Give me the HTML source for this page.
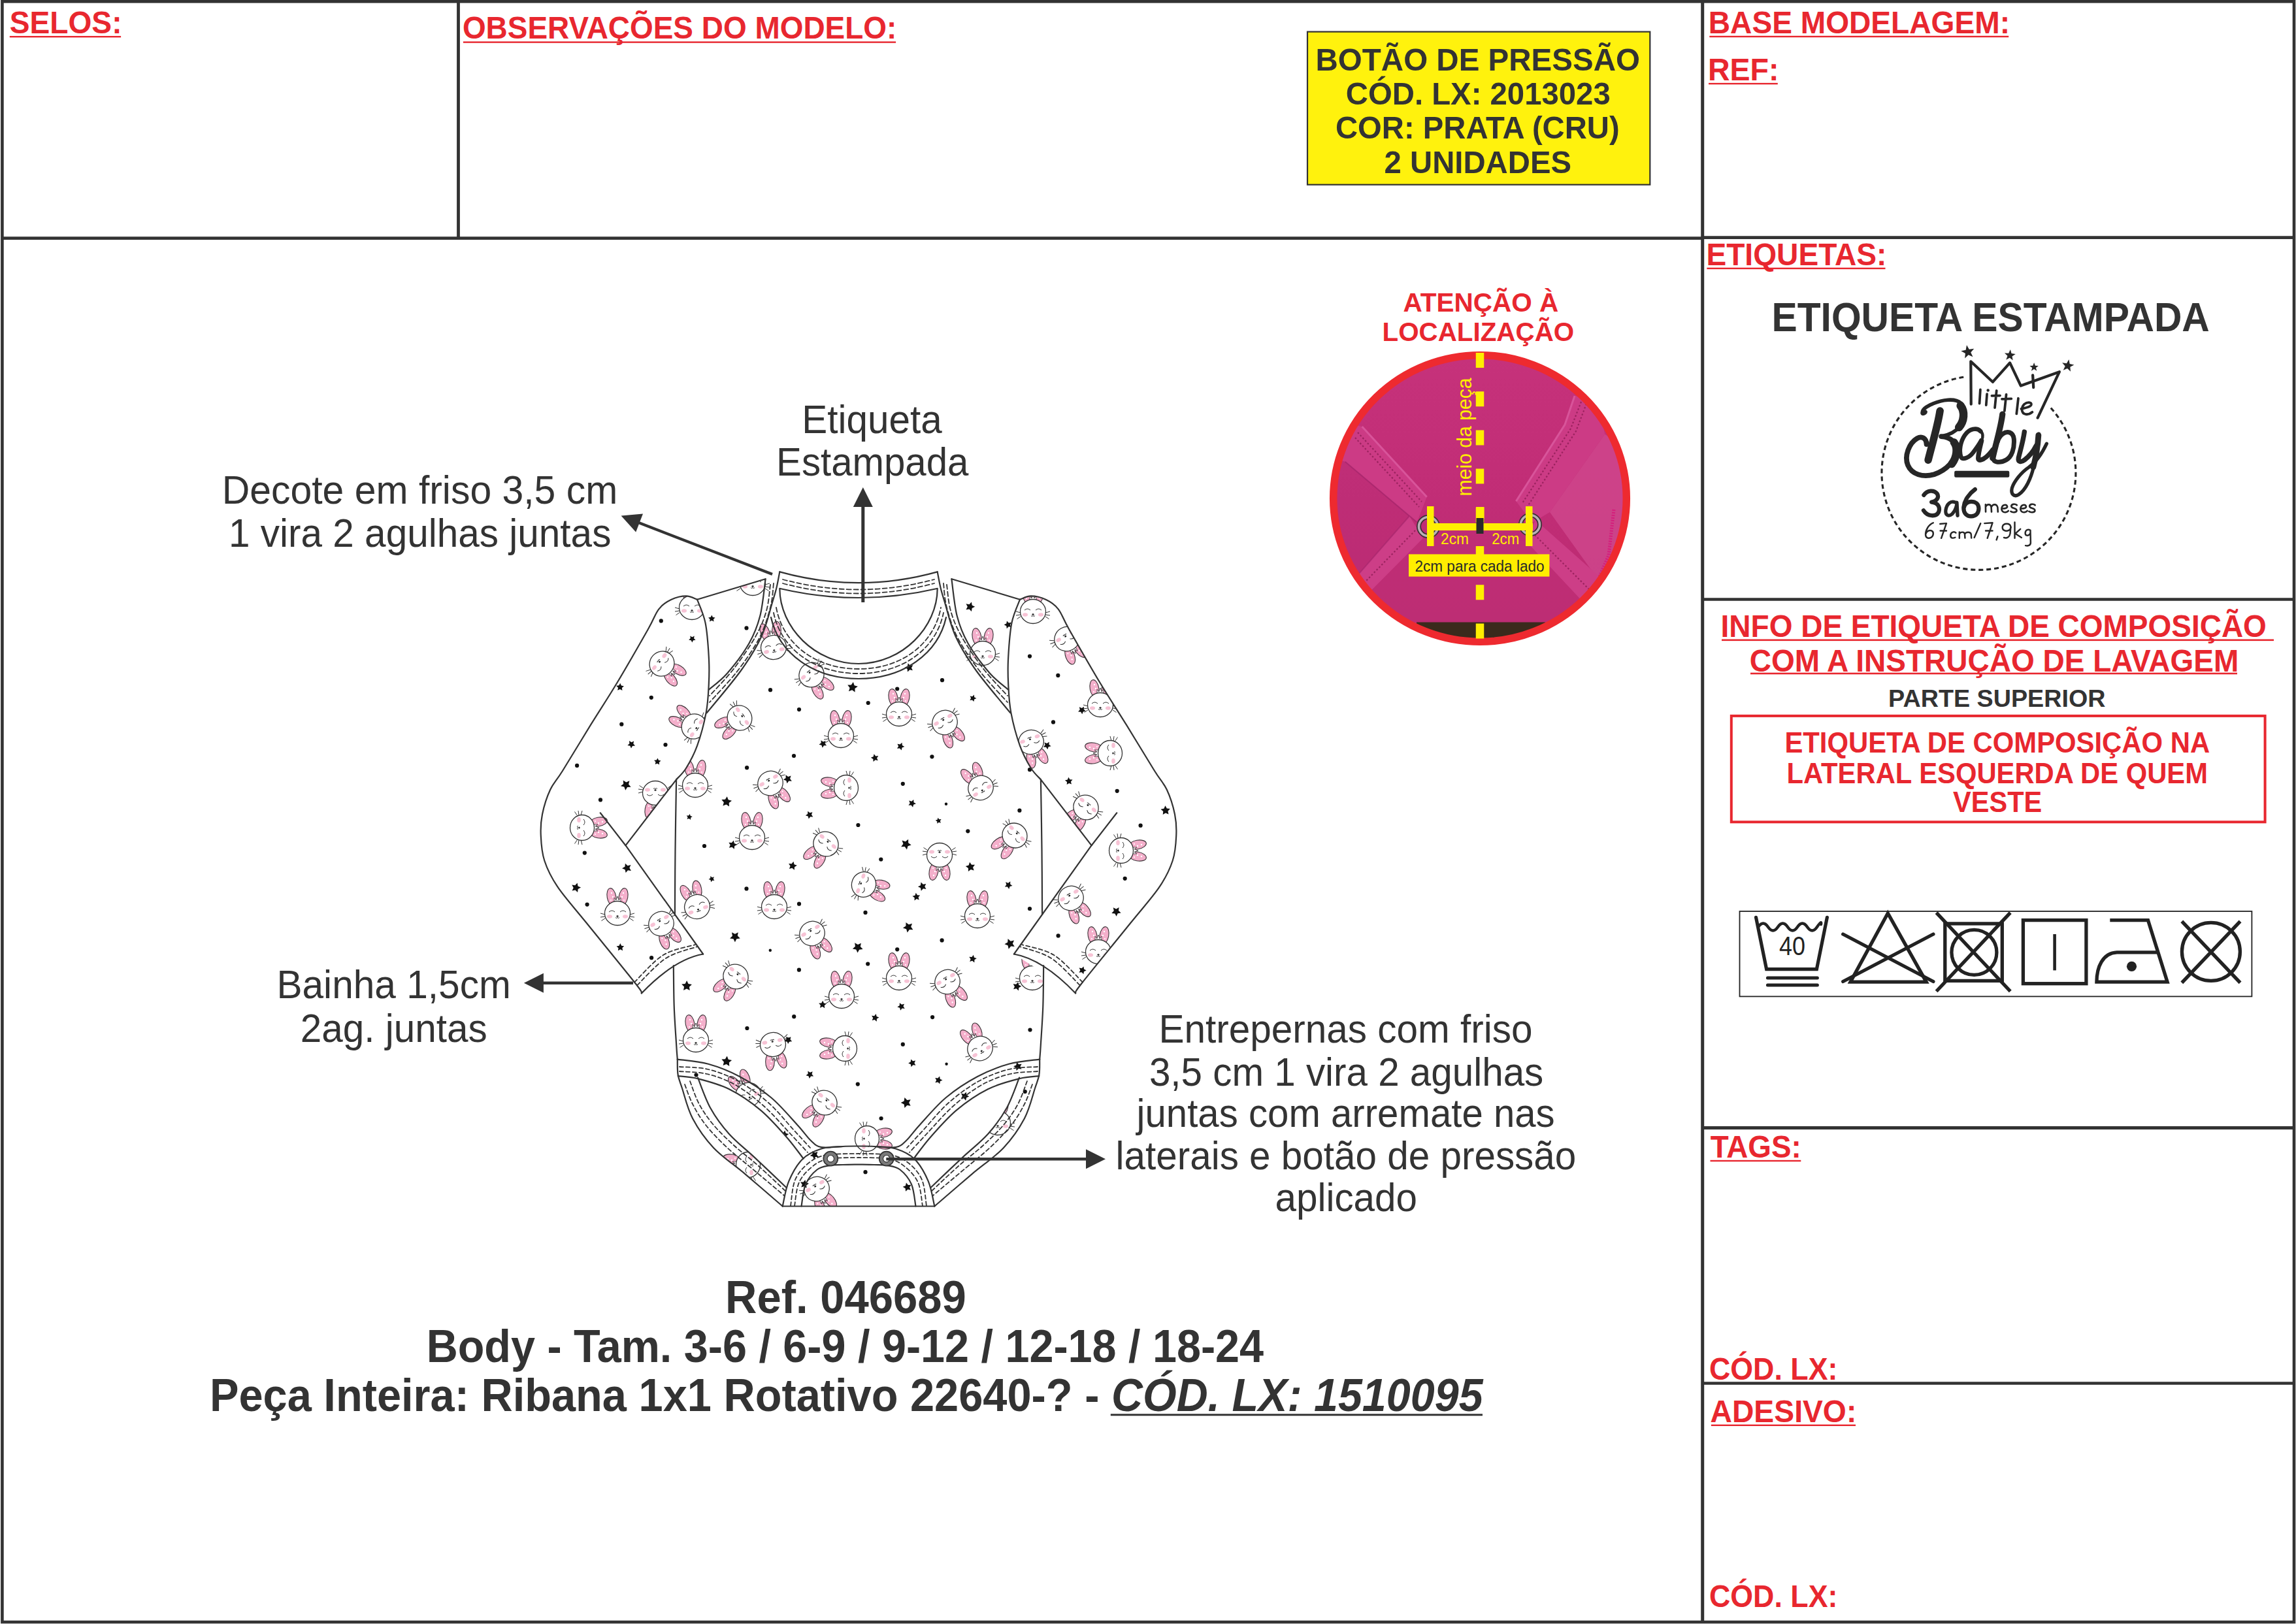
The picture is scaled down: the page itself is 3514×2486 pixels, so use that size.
<!DOCTYPE html>
<html><head><meta charset="utf-8"><title>Ficha Tecnica</title>
<style>html,body{margin:0;padding:0;background:#fff;}svg{display:block;}</style>
</head><body>
<svg width="3514" height="2486" viewBox="0 0 3514 2486"><g stroke="#333333" fill="none">
<rect x="3.4" y="2.3" width="3507.6" height="2480.7" stroke-width="4.6"/>
<line x1="701.5" y1="0" x2="701.5" y2="365" stroke-width="4.8"/>
<line x1="3" y1="364.6" x2="2606" y2="364.6" stroke-width="4.7"/>
<line x1="2605.7" y1="0" x2="2605.7" y2="2485" stroke-width="5"/>
<line x1="2605" y1="363.6" x2="3511" y2="363.6" stroke-width="4.9"/>
<line x1="2605" y1="917.5" x2="3511" y2="917.5" stroke-width="4.7"/>
<line x1="2605" y1="1726.5" x2="3511" y2="1726.5" stroke-width="4.8"/>
<line x1="2605" y1="2117.5" x2="3511" y2="2117.5" stroke-width="4.7"/>
</g>
<text x="14.8" y="51.0" font-family="Liberation Sans" font-size="48.5" font-weight="bold" fill="#e8272f" text-anchor="start" textLength="171.7" lengthAdjust="spacingAndGlyphs" >SELOS:</text>
<rect x="14.8" y="55.0" width="170.3" height="2.4" fill="#e8272f"/>
<text x="707.9" y="59.4" font-family="Liberation Sans" font-size="48.5" font-weight="bold" fill="#e8272f" text-anchor="start" textLength="664.4" lengthAdjust="spacingAndGlyphs" >OBSERVAÇÕES DO MODELO:</text>
<rect x="708.9" y="63.4" width="662.2" height="2.4" fill="#e8272f"/>
<text x="2614.8" y="50.8" font-family="Liberation Sans" font-size="48.5" font-weight="bold" fill="#e8272f" text-anchor="start" textLength="461.2" lengthAdjust="spacingAndGlyphs" >BASE MODELAGEM:</text>
<rect x="2616.3" y="54.8" width="457.9" height="2.4" fill="#e8272f"/>
<text x="2614.0" y="122.9" font-family="Liberation Sans" font-size="48.5" font-weight="bold" fill="#e8272f" text-anchor="start" textLength="108.5" lengthAdjust="spacingAndGlyphs" >REF:</text>
<rect x="2615.0" y="126.9" width="105.8" height="2.4" fill="#e8272f"/>
<rect x="2001" y="48.6" width="524.3" height="234.1" fill="#fff20d" stroke="#333333" stroke-width="2.2"/>
<text x="2013.5" y="107.6" font-family="Liberation Sans" font-size="49.0" font-weight="bold" fill="#333333" text-anchor="start" textLength="496.5" lengthAdjust="spacingAndGlyphs" >BOTÃO DE PRESSÃO</text>
<text x="2059.8" y="159.8" font-family="Liberation Sans" font-size="49.0" font-weight="bold" fill="#333333" text-anchor="start" textLength="404.9" lengthAdjust="spacingAndGlyphs" >CÓD. LX: 2013023</text>
<text x="2044.0" y="212.4" font-family="Liberation Sans" font-size="49.0" font-weight="bold" fill="#333333" text-anchor="start" textLength="434.7" lengthAdjust="spacingAndGlyphs" >COR: PRATA (CRU)</text>
<text x="2118.6" y="265.4" font-family="Liberation Sans" font-size="49.0" font-weight="bold" fill="#333333" text-anchor="start" textLength="286.4" lengthAdjust="spacingAndGlyphs" >2 UNIDADES</text>
<text x="2611.4" y="405.7" font-family="Liberation Sans" font-size="48.0" font-weight="bold" fill="#e8272f" text-anchor="start" textLength="276.0" lengthAdjust="spacingAndGlyphs" >ETIQUETAS:</text>
<rect x="2612.4" y="409.7" width="273.1" height="2.4" fill="#e8272f"/>
<text x="2711.5" y="507.3" font-family="Liberation Sans" font-size="62.5" font-weight="bold" fill="#333333" text-anchor="start" textLength="670.3" lengthAdjust="spacingAndGlyphs" >ETIQUETA ESTAMPADA</text>
<text x="2633.6" y="974.8" font-family="Liberation Sans" font-size="48.0" font-weight="bold" fill="#e8272f" text-anchor="start" textLength="835.3" lengthAdjust="spacingAndGlyphs" >INFO DE ETIQUETA DE COMPOSIÇÃO</text>
<rect x="2635.0" y="978.5" width="845.0" height="2.6" fill="#e8272f"/>
<text x="2677.7" y="1028.2" font-family="Liberation Sans" font-size="48.0" font-weight="bold" fill="#e8272f" text-anchor="start" textLength="748.6" lengthAdjust="spacingAndGlyphs" >COM A INSTRUÇÃO DE LAVAGEM</text>
<rect x="2679.0" y="1029.7" width="745.0" height="2.6" fill="#e8272f"/>
<text x="2890.1" y="1081.9" font-family="Liberation Sans" font-size="37.0" font-weight="bold" fill="#333333" text-anchor="start" textLength="332.4" lengthAdjust="spacingAndGlyphs" >PARTE SUPERIOR</text>
<rect x="2649.8" y="1095.9" width="816.8" height="162.4" fill="none" stroke="#e8272f" stroke-width="4"/>
<text x="2731.4" y="1151.6" font-family="Liberation Sans" font-size="43.6" font-weight="bold" fill="#e8272f" text-anchor="start" textLength="650.7" lengthAdjust="spacingAndGlyphs" >ETIQUETA DE COMPOSIÇÃO NA</text>
<text x="2734.5" y="1198.6" font-family="Liberation Sans" font-size="43.6" font-weight="bold" fill="#e8272f" text-anchor="start" textLength="644.5" lengthAdjust="spacingAndGlyphs" >LATERAL ESQUERDA DE QUEM</text>
<text x="2989.1" y="1243.2" font-family="Liberation Sans" font-size="43.6" font-weight="bold" fill="#e8272f" text-anchor="start" textLength="136.1" lengthAdjust="spacingAndGlyphs" >VESTE</text>
<text x="2617.7" y="1771.8" font-family="Liberation Sans" font-size="48.5" font-weight="bold" fill="#e8272f" text-anchor="start" textLength="139.1" lengthAdjust="spacingAndGlyphs" >TAGS:</text>
<rect x="2617.5" y="1775.8" width="138.8" height="2.4" fill="#e8272f"/>
<text x="2616.0" y="2111.8" font-family="Liberation Sans" font-size="48.5" font-weight="bold" fill="#e8272f" text-anchor="start" textLength="196.4" lengthAdjust="spacingAndGlyphs" >CÓD. LX:</text>
<text x="2617.5" y="2176.6" font-family="Liberation Sans" font-size="48.5" font-weight="bold" fill="#e8272f" text-anchor="start" textLength="223.8" lengthAdjust="spacingAndGlyphs" >ADESIVO:</text>
<rect x="2618.9" y="2180.6" width="221.1" height="2.4" fill="#e8272f"/>
<text x="2616.0" y="2459.6" font-family="Liberation Sans" font-size="48.5" font-weight="bold" fill="#e8272f" text-anchor="start" textLength="196.4" lengthAdjust="spacingAndGlyphs" >CÓD. LX:</text>
<text x="339.8" y="771.2" font-family="Liberation Sans" font-size="60.5" font-weight="normal" fill="#333333" text-anchor="start" textLength="605.4" lengthAdjust="spacingAndGlyphs" >Decote em friso 3,5 cm</text>
<text x="350.0" y="836.5" font-family="Liberation Sans" font-size="60.5" font-weight="normal" fill="#333333" text-anchor="start" textLength="585.4" lengthAdjust="spacingAndGlyphs" >1 vira 2 agulhas juntas</text>
<text x="1227.2" y="662.8" font-family="Liberation Sans" font-size="60.5" font-weight="normal" fill="#333333" text-anchor="start" textLength="214.5" lengthAdjust="spacingAndGlyphs" >Etiqueta</text>
<text x="1188.1" y="728.1" font-family="Liberation Sans" font-size="60.5" font-weight="normal" fill="#333333" text-anchor="start" textLength="294.3" lengthAdjust="spacingAndGlyphs" >Estampada</text>
<text x="423.4" y="1528.4" font-family="Liberation Sans" font-size="60.5" font-weight="normal" fill="#333333" text-anchor="start" textLength="358.5" lengthAdjust="spacingAndGlyphs" >Bainha 1,5cm</text>
<text x="459.8" y="1595.0" font-family="Liberation Sans" font-size="60.5" font-weight="normal" fill="#333333" text-anchor="start" textLength="285.9" lengthAdjust="spacingAndGlyphs" >2ag. juntas</text>
<text x="1773.5" y="1596.2" font-family="Liberation Sans" font-size="60.5" font-weight="normal" fill="#333333" text-anchor="start" textLength="571.9" lengthAdjust="spacingAndGlyphs" >Entrepernas com friso</text>
<text x="1758.9" y="1661.7" font-family="Liberation Sans" font-size="60.5" font-weight="normal" fill="#333333" text-anchor="start" textLength="603.4" lengthAdjust="spacingAndGlyphs" >3,5 cm 1 vira 2 agulhas</text>
<text x="1739.6" y="1725.3" font-family="Liberation Sans" font-size="60.5" font-weight="normal" fill="#333333" text-anchor="start" textLength="640.1" lengthAdjust="spacingAndGlyphs" >juntas com arremate nas</text>
<text x="1707.5" y="1789.9" font-family="Liberation Sans" font-size="60.5" font-weight="normal" fill="#333333" text-anchor="start" textLength="704.8" lengthAdjust="spacingAndGlyphs" >laterais e botão de pressão</text>
<text x="1951.6" y="1854.4" font-family="Liberation Sans" font-size="60.5" font-weight="normal" fill="#333333" text-anchor="start" textLength="217.4" lengthAdjust="spacingAndGlyphs" >aplicado</text>
<text x="1110.0" y="2009.7" font-family="Liberation Sans" font-size="69.6" font-weight="bold" fill="#333333" text-anchor="start" textLength="368.8" lengthAdjust="spacingAndGlyphs" >Ref. 046689</text>
<text x="652.7" y="2085.0" font-family="Liberation Sans" font-size="69.6" font-weight="bold" fill="#333333" text-anchor="start" textLength="1281.4" lengthAdjust="spacingAndGlyphs" >Body - Tam. 3-6 / 6-9 / 9-12 / 12-18 / 18-24</text>
<text x="320.9" y="2160.0" font-family="Liberation Sans" font-size="69.6" font-weight="bold" fill="#333333" text-anchor="start" textLength="1361.5" lengthAdjust="spacingAndGlyphs" >Peça Inteira: Ribana 1x1 Rotativo 22640-? -</text>
<text x="1701.0" y="2160.0" font-family="Liberation Sans" font-size="69.6" font-weight="bold" fill="#333333" text-anchor="start" textLength="568.6" lengthAdjust="spacingAndGlyphs" font-style="italic" >CÓD. LX: 1510095</text>
<rect x="1699.8" y="2164.3" width="569.2" height="3.0" fill="#333333"/>
<text x="2147.6" y="477.1" font-family="Liberation Sans" font-size="40.0" font-weight="bold" fill="#e8272f" text-anchor="start" textLength="237.7" lengthAdjust="spacingAndGlyphs" >ATENÇÃO À</text>
<text x="2115.5" y="521.8" font-family="Liberation Sans" font-size="40.0" font-weight="bold" fill="#e8272f" text-anchor="start" textLength="293.7" lengthAdjust="spacingAndGlyphs" >LOCALIZAÇÃO</text>
<defs>
<clipPath id="gclip">
<path d="M1193.3,875.4 L1171.6,886.3 L1067.0,917.7 L1079.5,953.3 L1084.8,1005.6 L1084.8,1047.5 L1080.6,1091.4 L1067.0,1141.6 L1050.0,1176.0 L1035.1,1193.3 L1033.5,1300.0 L1032.9,1400.0 L1031.5,1440.0 L1030.8,1478.0 L1031.7,1540.0 L1035.2,1600.0 L1036.8,1621.6 L1037.6,1645.0 L1044.0,1666.0 L1060.0,1712.0 L1092.0,1756.9 L1140.0,1796.9 L1197.7,1846.5 L1430.3,1846.5 L1488.0,1796.9 L1536.0,1756.9 L1568.0,1712.0 L1584.0,1666.0 L1590.4,1645.0 L1591.2,1621.6 L1592.8,1600.0 L1596.3,1540.0 L1597.2,1478.0 L1596.5,1440.0 L1595.1,1400.0 L1594.5,1300.0 L1592.9,1193.3 L1578.0,1176.0 L1561.0,1141.6 L1547.4,1091.4 L1543.2,1047.5 L1543.2,1005.6 L1548.5,953.3 L1561.0,917.7 L1456.4,886.3 L1434.7,875.4 Q1314,909 1193.3,875.4 Z"/>
<path d="M1067.0,917.7 L1050.2,912.4 L1027.0,918.0 L1008.4,932.3 L991.6,963.7 L945.6,1043.3 L903.7,1110.2 L861.0,1180.0 L842.2,1208.8 L830.0,1246.5 L827.8,1279.8 L833.3,1317.5 L853.3,1357.4 L897.6,1412.8 L973.0,1506.0 L981.9,1520.4 L1076.1,1460.5 L957.5,1294.2 L1035.1,1193.3 L1035.1,1193.3 L1050.0,1176.0 L1067.0,1141.6 L1080.6,1091.4 L1084.8,1047.5 L1084.8,1005.6 L1079.5,953.3 L1067.0,917.7 Z"/>
<path d="M1561.0,917.7 L1577.8,912.4 L1601.0,918.0 L1619.6,932.3 L1636.4,963.7 L1682.4,1043.3 L1724.3,1110.2 L1767.0,1180.0 L1785.8,1208.8 L1798.0,1246.5 L1800.2,1279.8 L1794.7,1317.5 L1774.7,1357.4 L1730.4,1412.8 L1655.0,1506.0 L1646.1,1520.4 L1551.9,1460.5 L1670.5,1294.2 L1592.9,1193.3 L1592.9,1193.3 L1578.0,1176.0 L1561.0,1141.6 L1547.4,1091.4 L1543.2,1047.5 L1543.2,1005.6 L1548.5,953.3 L1561.0,917.7 Z"/>
</clipPath>
<clipPath id="tclip"><path d="M1193.3,875.4 L1171.6,886.3 L1067.0,917.7 L1079.5,953.3 L1084.8,1005.6 L1084.8,1047.5 L1080.6,1091.4 L1067.0,1141.6 L1050.0,1176.0 L1035.1,1193.3 L1033.5,1300.0 L1032.9,1400.0 L1031.5,1440.0 L1030.8,1478.0 L1031.7,1540.0 L1035.2,1600.0 L1036.8,1621.6 L1037.6,1645.0 L1044.0,1666.0 L1060.0,1712.0 L1092.0,1756.9 L1140.0,1796.9 L1197.7,1846.5 L1430.3,1846.5 L1488.0,1796.9 L1536.0,1756.9 L1568.0,1712.0 L1584.0,1666.0 L1590.4,1645.0 L1591.2,1621.6 L1592.8,1600.0 L1596.3,1540.0 L1597.2,1478.0 L1596.5,1440.0 L1595.1,1400.0 L1594.5,1300.0 L1592.9,1193.3 L1578.0,1176.0 L1561.0,1141.6 L1547.4,1091.4 L1543.2,1047.5 L1543.2,1005.6 L1548.5,953.3 L1561.0,917.7 L1456.4,886.3 L1434.7,875.4 Q1314,909 1193.3,875.4 Z"/></clipPath>
<clipPath id="lclip"><path d="M1067.0,917.7 L1050.2,912.4 L1027.0,918.0 L1008.4,932.3 L991.6,963.7 L945.6,1043.3 L903.7,1110.2 L861.0,1180.0 L842.2,1208.8 L830.0,1246.5 L827.8,1279.8 L833.3,1317.5 L853.3,1357.4 L897.6,1412.8 L973.0,1506.0 L981.9,1520.4 L1076.1,1460.5 L957.5,1294.2 L1035.1,1193.3 L1035.1,1193.3 L1050.0,1176.0 L1067.0,1141.6 L1080.6,1091.4 L1084.8,1047.5 L1084.8,1005.6 L1079.5,953.3 L1067.0,917.7 Z"/></clipPath>
<clipPath id="rclip"><path d="M1561.0,917.7 L1577.8,912.4 L1601.0,918.0 L1619.6,932.3 L1636.4,963.7 L1682.4,1043.3 L1724.3,1110.2 L1767.0,1180.0 L1785.8,1208.8 L1798.0,1246.5 L1800.2,1279.8 L1794.7,1317.5 L1774.7,1357.4 L1730.4,1412.8 L1655.0,1506.0 L1646.1,1520.4 L1551.9,1460.5 L1670.5,1294.2 L1592.9,1193.3 L1592.9,1193.3 L1578.0,1176.0 L1561.0,1141.6 L1547.4,1091.4 L1543.2,1047.5 L1543.2,1005.6 L1548.5,953.3 L1561.0,917.7 Z"/></clipPath>
<symbol id="bun" overflow="visible">
<g stroke="#3a3236" stroke-width="1.1">
<ellipse cx="-9" cy="-25" rx="6.8" ry="13.5" fill="#f4afcb" transform="rotate(-10 -9 -25)"/>
<ellipse cx="9" cy="-25" rx="6.8" ry="13.5" fill="#f4afcb" transform="rotate(10 9 -25)"/>
</g>
<g fill="#fff"><circle cx="-9" cy="-31" r="1.2"/><circle cx="-7" cy="-25" r="1.2"/><circle cx="-10" cy="-20" r="1.1"/><circle cx="9" cy="-31" r="1.2"/><circle cx="7" cy="-25" r="1.2"/><circle cx="10" cy="-20" r="1.1"/></g>
<path d="M-5,-16 L-5,-24 L-2.2,-20 L0,-26 L2.2,-20 L5,-24 L5,-16 Z" fill="#fff" stroke="#3a3236" stroke-width="0.8"/>
<ellipse cx="0" cy="0" rx="19.5" ry="18.5" fill="#fff" stroke="#333" stroke-width="1.3"/>
<ellipse cx="-12" cy="5" rx="4" ry="2.8" fill="#f7c3d5"/><ellipse cx="12" cy="5" rx="4" ry="2.8" fill="#f7c3d5"/>
<g fill="none" stroke="#333" stroke-width="1"><path d="M-13,-2 q4.5,-4 9,0"/><path d="M4,-2 q4.5,-4 9,0"/><path d="M-3,6.5 q1.5,2 3,0 q1.5,2 3,0"/>
<path d="M-19,2 l-7,-2 M-19,5 l-7,1 M-18.5,7.5 l-6,4 M19,2 l7,-2 M19,5 l7,1 M18.5,7.5 l6,4"/></g>
<ellipse cx="0" cy="4.5" rx="1.6" ry="1.2" fill="#222"/>
</symbol>
<symbol id="star" overflow="visible"><path d="M0,-6 L1.76,-2.43 L5.71,-1.85 L2.85,0.93 L3.53,4.85 L0,3 L-3.53,4.85 L-2.85,0.93 L-5.71,-1.85 L-1.76,-2.43 Z" fill="#111"/></symbol>
</defs>
<path d="M1193.3,875.4 L1171.6,886.3 L1067.0,917.7 L1079.5,953.3 L1084.8,1005.6 L1084.8,1047.5 L1080.6,1091.4 L1067.0,1141.6 L1050.0,1176.0 L1035.1,1193.3 L1033.5,1300.0 L1032.9,1400.0 L1031.5,1440.0 L1030.8,1478.0 L1031.7,1540.0 L1035.2,1600.0 L1036.8,1621.6 L1037.6,1645.0 L1044.0,1666.0 L1060.0,1712.0 L1092.0,1756.9 L1140.0,1796.9 L1197.7,1846.5 L1430.3,1846.5 L1488.0,1796.9 L1536.0,1756.9 L1568.0,1712.0 L1584.0,1666.0 L1590.4,1645.0 L1591.2,1621.6 L1592.8,1600.0 L1596.3,1540.0 L1597.2,1478.0 L1596.5,1440.0 L1595.1,1400.0 L1594.5,1300.0 L1592.9,1193.3 L1578.0,1176.0 L1561.0,1141.6 L1547.4,1091.4 L1543.2,1047.5 L1543.2,1005.6 L1548.5,953.3 L1561.0,917.7 L1456.4,886.3 L1434.7,875.4 Q1314,909 1193.3,875.4 Z" fill="#fff"/>
<g clip-path="url(#tclip)">
<use href="#bun" transform="translate(1152.0,893.0) rotate(0)"/>
<use href="#bun" transform="translate(1184.0,991.0) rotate(-10)"/>
<use href="#bun" transform="translate(1242.0,1033.0) rotate(140)"/>
<use href="#bun" transform="translate(1132.0,1099.0) rotate(235)"/>
<use href="#bun" transform="translate(1287.0,1126.0) rotate(0)"/>
<use href="#bun" transform="translate(1179.0,1199.0) rotate(150)"/>
<use href="#bun" transform="translate(1295.0,1206.0) rotate(-90)"/>
<use href="#bun" transform="translate(1064.0,1202.0) rotate(0)"/>
<use href="#bun" transform="translate(1151.0,1282.0) rotate(0)"/>
<use href="#bun" transform="translate(1264.0,1292.0) rotate(220)"/>
<use href="#bun" transform="translate(1322.0,1354.0) rotate(110)"/>
<use href="#bun" transform="translate(1185.0,1388.0) rotate(0)"/>
<use href="#bun" transform="translate(1067.0,1388.0) rotate(-20)"/>
<use href="#bun" transform="translate(1504.0,1000.0) rotate(0)"/>
<use href="#bun" transform="translate(1376.0,1093.0) rotate(0)"/>
<use href="#bun" transform="translate(1446.0,1106.0) rotate(150)"/>
<use href="#bun" transform="translate(1501.0,1206.0) rotate(-30)"/>
<use href="#bun" transform="translate(1438.0,1309.0) rotate(180)"/>
<use href="#bun" transform="translate(1553.0,1279.0) rotate(225)"/>
<use href="#bun" transform="translate(1496.0,1402.0) rotate(0)"/>
<use href="#bun" transform="translate(1243.0,1429.0) rotate(150)"/>
<use href="#bun" transform="translate(1126.0,1495.0) rotate(220)"/>
<use href="#bun" transform="translate(1288.0,1525.0) rotate(0)"/>
<use href="#bun" transform="translate(1065.0,1592.0) rotate(0)"/>
<use href="#bun" transform="translate(1183.0,1599.0) rotate(170)"/>
<use href="#bun" transform="translate(1293.0,1605.0) rotate(-90)"/>
<use href="#bun" transform="translate(1262.0,1688.0) rotate(220)"/>
<use href="#bun" transform="translate(1145.0,1676.0) rotate(-30)"/>
<use href="#bun" transform="translate(1145.0,1783.0) rotate(-90)"/>
<use href="#bun" transform="translate(1250.0,1820.0) rotate(150)"/>
<use href="#bun" transform="translate(1376.0,1497.0) rotate(0)"/>
<use href="#bun" transform="translate(1450.0,1503.0) rotate(150)"/>
<use href="#bun" transform="translate(1580.0,1497.0) rotate(0)"/>
<use href="#bun" transform="translate(1500.0,1605.0) rotate(-30)"/>
<use href="#bun" transform="translate(1327.0,1743.0) rotate(90)"/>
<use href="#bun" transform="translate(1527.0,1719.0) rotate(0)"/>
<circle cx="1142.5" cy="961.4" r="3.1" fill="#111"/>
<circle cx="1179.0" cy="1056.2" r="3.1" fill="#111"/>
<circle cx="1223.0" cy="1086.1" r="3.1" fill="#111"/>
<circle cx="1215.0" cy="1157.0" r="3.1" fill="#111"/>
<circle cx="1143.1" cy="1175.2" r="3.1" fill="#111"/>
<circle cx="1078.0" cy="1295.0" r="3.1" fill="#111"/>
<circle cx="1313.4" cy="1263.0" r="3.1" fill="#111"/>
<circle cx="1142.5" cy="1360.4" r="3.1" fill="#111"/>
<circle cx="1223.0" cy="1383.7" r="3.1" fill="#111"/>
<circle cx="1328.7" cy="1076.0" r="3.1" fill="#111"/>
<circle cx="1442.0" cy="1041.2" r="3.1" fill="#111"/>
<circle cx="1373.2" cy="1054.5" r="3.1" fill="#111"/>
<circle cx="1426.4" cy="1158.3" r="3.1" fill="#111"/>
<circle cx="1381.8" cy="1199.8" r="3.1" fill="#111"/>
<circle cx="1560.4" cy="1240.7" r="3.1" fill="#111"/>
<circle cx="1576.0" cy="1178.2" r="3.1" fill="#111"/>
<circle cx="1481.3" cy="1272.3" r="3.1" fill="#111"/>
<circle cx="1348.3" cy="1315.5" r="3.1" fill="#111"/>
<circle cx="1576.0" cy="1391.0" r="3.1" fill="#111"/>
<circle cx="1222.9" cy="1484.7" r="3.1" fill="#111"/>
<circle cx="1324.5" cy="1396.9" r="3.1" fill="#111"/>
<circle cx="1143.4" cy="1574.0" r="3.1" fill="#111"/>
<circle cx="1215.2" cy="1556.2" r="3.1" fill="#111"/>
<circle cx="1312.8" cy="1659.6" r="3.1" fill="#111"/>
<circle cx="1328.2" cy="1475.5" r="3.1" fill="#111"/>
<circle cx="1065.5" cy="1645.5" r="3.1" fill="#111"/>
<circle cx="1324.5" cy="1794.2" r="3.1" fill="#111"/>
<circle cx="1441.6" cy="1439.4" r="3.1" fill="#111"/>
<circle cx="1373.2" cy="1453.3" r="3.1" fill="#111"/>
<circle cx="1427.1" cy="1557.1" r="3.1" fill="#111"/>
<circle cx="1381.8" cy="1598.7" r="3.1" fill="#111"/>
<circle cx="1576.5" cy="1576.5" r="3.1" fill="#111"/>
<circle cx="1348.6" cy="1712.0" r="3.1" fill="#111"/>
<circle cx="1568.8" cy="1671.0" r="3.1" fill="#111"/>
<circle cx="1448.0" cy="1230.7" r="2.2" fill="#111"/>
<circle cx="1178.8" cy="1454.8" r="2.2" fill="#111"/>
<circle cx="1328.5" cy="1474.9" r="2.2" fill="#111"/>
<circle cx="1448.6" cy="1628.8" r="2.2" fill="#111"/>
<use href="#star" transform="translate(1089.3,947.1) rotate(0) scale(0.92)"/>
<use href="#star" transform="translate(1111.9,1227.4) rotate(6) scale(1.38)"/>
<use href="#star" transform="translate(1259.5,1138.6) rotate(43) scale(1.03)"/>
<use href="#star" transform="translate(1304.7,1052.2) rotate(8) scale(1.38)"/>
<use href="#star" transform="translate(1205.7,1192.5) rotate(45) scale(1.15)"/>
<use href="#star" transform="translate(1055.0,1250.7) rotate(10) scale(0.80)"/>
<use href="#star" transform="translate(1238.9,1247.4) rotate(47) scale(1.03)"/>
<use href="#star" transform="translate(1213.0,1325.5) rotate(12) scale(1.15)"/>
<use href="#star" transform="translate(1089.3,1345.5) rotate(49) scale(0.80)"/>
<use href="#star" transform="translate(1121.2,1293.3) rotate(14) scale(1.15)"/>
<use href="#star" transform="translate(1411.8,1357.1) rotate(53) scale(1.15)"/>
<use href="#star" transform="translate(1484.6,928.8) rotate(18) scale(1.26)"/>
<use href="#star" transform="translate(1542.8,956.4) rotate(55) scale(1.03)"/>
<use href="#star" transform="translate(1488.9,1068.8) rotate(20) scale(0.92)"/>
<use href="#star" transform="translate(1391.5,1022.0) rotate(57) scale(1.15)"/>
<use href="#star" transform="translate(1378.2,1142.6) rotate(22) scale(1.03)"/>
<use href="#star" transform="translate(1339.0,1160.3) rotate(59) scale(1.03)"/>
<use href="#star" transform="translate(1395.8,1229.7) rotate(24) scale(1.03)"/>
<use href="#star" transform="translate(1436.4,1256.4) rotate(61) scale(0.80)"/>
<use href="#star" transform="translate(1386.5,1292.3) rotate(26) scale(1.38)"/>
<use href="#star" transform="translate(1485.3,1327.2) rotate(63) scale(1.26)"/>
<use href="#star" transform="translate(1543.4,1354.8) rotate(28) scale(1.03)"/>
<use href="#star" transform="translate(1402.5,1373.0) rotate(65) scale(1.03)"/>
<use href="#star" transform="translate(1124.9,1433.9) rotate(36) scale(1.38)"/>
<use href="#star" transform="translate(1051.0,1509.3) rotate(1) scale(1.38)"/>
<use href="#star" transform="translate(1312.8,1450.2) rotate(38) scale(1.38)"/>
<use href="#star" transform="translate(1258.9,1538.0) rotate(3) scale(1.03)"/>
<use href="#star" transform="translate(1206.5,1591.9) rotate(40) scale(1.03)"/>
<use href="#star" transform="translate(1112.0,1624.8) rotate(5) scale(1.38)"/>
<use href="#star" transform="translate(1239.5,1644.9) rotate(42) scale(1.03)"/>
<use href="#star" transform="translate(1200.4,1737.3) rotate(7) scale(1.15)"/>
<use href="#star" transform="translate(1246.6,1768.0) rotate(44) scale(1.15)"/>
<use href="#star" transform="translate(1231.2,1812.7) rotate(9) scale(1.15)"/>
<use href="#star" transform="translate(1390.1,1419.4) rotate(46) scale(1.38)"/>
<use href="#star" transform="translate(1488.7,1467.8) rotate(11) scale(1.03)"/>
<use href="#star" transform="translate(1379.4,1540.8) rotate(48) scale(1.03)"/>
<use href="#star" transform="translate(1339.3,1558.0) rotate(13) scale(1.03)"/>
<use href="#star" transform="translate(1545.7,1444.7) rotate(50) scale(1.38)"/>
<use href="#star" transform="translate(1556.4,1510.0) rotate(15) scale(1.15)"/>
<use href="#star" transform="translate(1396.3,1627.3) rotate(52) scale(1.03)"/>
<use href="#star" transform="translate(1436.3,1653.5) rotate(17) scale(1.03)"/>
<use href="#star" transform="translate(1387.0,1688.0) rotate(54) scale(1.38)"/>
<use href="#star" transform="translate(1558.0,1632.5) rotate(56) scale(1.15)"/>
<use href="#star" transform="translate(1476.4,1678.1) rotate(21) scale(1.15)"/>
<use href="#star" transform="translate(1388.6,1817.3) rotate(58) scale(1.15)"/>
</g>
<path d="M1067.0,917.7 L1050.2,912.4 L1027.0,918.0 L1008.4,932.3 L991.6,963.7 L945.6,1043.3 L903.7,1110.2 L861.0,1180.0 L842.2,1208.8 L830.0,1246.5 L827.8,1279.8 L833.3,1317.5 L853.3,1357.4 L897.6,1412.8 L973.0,1506.0 L981.9,1520.4 L1076.1,1460.5 L957.5,1294.2 L1035.1,1193.3 L1035.1,1193.3 L1050.0,1176.0 L1067.0,1141.6 L1080.6,1091.4 L1084.8,1047.5 L1084.8,1005.6 L1079.5,953.3 L1067.0,917.7 Z" fill="#fff"/>
<g clip-path="url(#lclip)">
<use href="#bun" transform="translate(1059.0,930.0) rotate(0)"/>
<use href="#bun" transform="translate(1013.0,1016.0) rotate(130)"/>
<use href="#bun" transform="translate(1062.0,1112.0) rotate(-55)"/>
<use href="#bun" transform="translate(1003.0,1214.0) rotate(180)"/>
<use href="#bun" transform="translate(891.0,1267.0) rotate(90)"/>
<use href="#bun" transform="translate(945.0,1398.0) rotate(0)"/>
<use href="#bun" transform="translate(1012.0,1414.0) rotate(150)"/>
<circle cx="1011.8" cy="950.4" r="3.1" fill="#111"/>
<circle cx="996.8" cy="1067.8" r="3.1" fill="#111"/>
<circle cx="951.3" cy="1108.7" r="3.1" fill="#111"/>
<circle cx="1018.5" cy="1140.0" r="3.1" fill="#111"/>
<circle cx="883.1" cy="1171.9" r="3.1" fill="#111"/>
<circle cx="919.0" cy="1224.4" r="3.1" fill="#111"/>
<circle cx="894.8" cy="1305.6" r="3.1" fill="#111"/>
<circle cx="898.6" cy="1384.6" r="3.1" fill="#111"/>
<circle cx="997.1" cy="1466.2" r="3.1" fill="#111"/>
<use href="#star" transform="translate(1059.4,978.0) rotate(37) scale(0.92)"/>
<use href="#star" transform="translate(949.0,1051.9) rotate(2) scale(1.03)"/>
<use href="#star" transform="translate(966.3,1139.3) rotate(39) scale(1.03)"/>
<use href="#star" transform="translate(1006.2,1165.9) rotate(4) scale(0.92)"/>
<use href="#star" transform="translate(958.0,1201.5) rotate(41) scale(1.38)"/>
<use href="#star" transform="translate(959.6,1328.8) rotate(51) scale(1.26)"/>
<use href="#star" transform="translate(881.5,1358.8) rotate(16) scale(1.26)"/>
<use href="#star" transform="translate(949.4,1450.2) rotate(71) scale(1.03)"/>
</g>
<path d="M1561.0,917.7 L1577.8,912.4 L1601.0,918.0 L1619.6,932.3 L1636.4,963.7 L1682.4,1043.3 L1724.3,1110.2 L1767.0,1180.0 L1785.8,1208.8 L1798.0,1246.5 L1800.2,1279.8 L1794.7,1317.5 L1774.7,1357.4 L1730.4,1412.8 L1655.0,1506.0 L1646.1,1520.4 L1551.9,1460.5 L1670.5,1294.2 L1592.9,1193.3 L1592.9,1193.3 L1578.0,1176.0 L1561.0,1141.6 L1547.4,1091.4 L1543.2,1047.5 L1543.2,1005.6 L1548.5,953.3 L1561.0,917.7 Z" fill="#fff"/>
<g clip-path="url(#rclip)">
<use href="#bun" transform="translate(1581.0,936.0) rotate(0)"/>
<use href="#bun" transform="translate(1633.0,978.0) rotate(150)"/>
<use href="#bun" transform="translate(1684.0,1079.0) rotate(0)"/>
<use href="#bun" transform="translate(1578.0,1136.0) rotate(160)"/>
<use href="#bun" transform="translate(1699.0,1153.0) rotate(-90)"/>
<use href="#bun" transform="translate(1662.0,1236.0) rotate(220)"/>
<use href="#bun" transform="translate(1716.0,1302.0) rotate(90)"/>
<use href="#bun" transform="translate(1639.0,1375.0) rotate(150)"/>
<use href="#bun" transform="translate(1681.0,1457.0) rotate(0)"/>
<circle cx="1576.0" cy="1004.6" r="3.1" fill="#111"/>
<circle cx="1619.3" cy="1033.9" r="3.1" fill="#111"/>
<circle cx="1612.0" cy="1105.4" r="3.1" fill="#111"/>
<circle cx="1709.7" cy="1210.8" r="3.1" fill="#111"/>
<circle cx="1745.6" cy="1263.7" r="3.1" fill="#111"/>
<circle cx="1721.7" cy="1344.8" r="3.1" fill="#111"/>
<circle cx="1619.6" cy="1432.4" r="3.1" fill="#111"/>
<use href="#star" transform="translate(1602.6,1141.0) rotate(30) scale(1.03)"/>
<use href="#star" transform="translate(1635.9,1195.8) rotate(67) scale(1.03)"/>
<use href="#star" transform="translate(1655.8,1087.1) rotate(32) scale(1.03)"/>
<use href="#star" transform="translate(1783.8,1240.7) rotate(69) scale(1.26)"/>
<use href="#star" transform="translate(1708.4,1395.3) rotate(34) scale(1.26)"/>
<use href="#star" transform="translate(1656.5,1485.3) rotate(19) scale(1.03)"/>
</g>
<g fill="#fff">
<path d="M1193.3,900.8 C1193.3,960 1247,1016 1314,1016 C1381,1016 1434.7,960 1434.7,900.8 Q1314,929 1193.3,900.8 Z"/>
<path d="M1068.0,1651.2 C1076.0,1653.9 1100.0,1659.2 1116.0,1667.2 C1132.0,1675.2 1149.3,1687.0 1164.0,1699.3 C1178.7,1711.6 1193.1,1728.5 1204.1,1740.9 C1215.0,1753.3 1225.4,1768.2 1229.7,1773.7 L1216,1796  C1195.4,1810.2 1170.5,1786.5 1156.0,1772.9 C1141.5,1759.3 1127.5,1748.8 1116.0,1736.0 C1104.5,1723.2 1095.2,1710.4 1087.2,1696.0 C1079.2,1681.6 1071.2,1657.3 1068.0,1649.6 Z"/>
<path d="M1560.0,1651.2 C1552.0,1653.9 1528.0,1659.2 1512.0,1667.2 C1496.0,1675.2 1478.7,1687.0 1464.0,1699.3 C1449.3,1711.6 1434.9,1728.5 1423.9,1740.9 C1413.0,1753.3 1402.6,1768.2 1398.3,1773.7 L1412.0,1796  C1432.6,1810.2 1457.5,1786.5 1472.0,1772.9 C1486.5,1759.3 1500.5,1748.8 1512.0,1736.0 C1523.5,1723.2 1532.8,1710.4 1540.8,1696.0 C1548.8,1681.6 1556.8,1657.3 1560.0,1649.6 Z"/>
</g>
<path d="M1193.3,875.4 Q1314,909 1434.7,875.4" fill="none" stroke="#333333" stroke-width="2.2" stroke-linejoin="round" stroke-linecap="round" />
<path d="M1194,901 Q1314,929 1434,901" fill="none" stroke="#333333" stroke-width="2.2" stroke-linejoin="round" stroke-linecap="round" />
<path d="M1198,887 Q1314,918 1430,887" fill="none" stroke="#333333" stroke-width="1.8" stroke-linejoin="round" stroke-linecap="round" stroke-dasharray="7,4" />
<path d="M1198,893 Q1314,924 1430,893" fill="none" stroke="#333333" stroke-width="1.8" stroke-linejoin="round" stroke-linecap="round" stroke-dasharray="7,4" />
<path d="M1193.3,900.8 C1193.3,960 1247,1016 1314,1016 C1381,1016 1434.7,960 1434.7,900.8" fill="none" stroke="#333333" stroke-width="2.2" stroke-linejoin="round" stroke-linecap="round" />
<path d="M1180,945 C1192,1000 1245,1039 1314,1039 C1383,1039 1436,1000 1448,945" fill="none" stroke="#333333" stroke-width="2.2" stroke-linejoin="round" stroke-linecap="round" />
<path d="M1188,930 C1198,985 1247,1024 1314,1024 C1381,1024 1430,985 1440,930" fill="none" stroke="#333333" stroke-width="1.8" stroke-linejoin="round" stroke-linecap="round" stroke-dasharray="7,4" />
<path d="M1184,938 C1195,993 1246,1031 1314,1031 C1382,1031 1433,993 1444,938" fill="none" stroke="#333333" stroke-width="1.8" stroke-linejoin="round" stroke-linecap="round" stroke-dasharray="7,4" />
<path d="M1171.6,886.3 C1170.2,895.7 1167.5,926.4 1163.3,942.8 C1159.1,959.2 1154.9,970.1 1146.5,984.7 C1138.1,999.4 1123.3,1018.9 1113.0,1030.7 C1102.7,1042.5 1089.5,1051.6 1084.8,1055.8" fill="none" stroke="#333333" stroke-width="2.2" stroke-linejoin="round" stroke-linecap="round" />
<path d="M1456.4,886.3 C1457.8,895.7 1460.5,926.4 1464.7,942.8 C1468.9,959.2 1473.1,970.1 1481.5,984.7 C1489.9,999.4 1504.7,1018.9 1515.0,1030.7 C1525.3,1042.5 1538.5,1051.6 1543.2,1055.8" fill="none" stroke="#333333" stroke-width="2.2" stroke-linejoin="round" stroke-linecap="round" />
<path d="M1193.3,875.4 C1192.5,879.5 1190.3,892.2 1188.4,900.0 C1186.5,907.8 1185.9,909.5 1182.1,921.9 C1178.3,934.3 1173.4,956.8 1165.4,974.2 C1157.4,991.6 1148.0,1007.0 1134.0,1026.5 C1120.0,1046.0 1090.3,1080.6 1081.6,1091.4" fill="none" stroke="#333333" stroke-width="2.2" stroke-linejoin="round" stroke-linecap="round" />
<path d="M1434.7,875.4 C1435.5,879.5 1437.7,892.2 1439.6,900.0 C1441.5,907.8 1442.1,909.5 1445.9,921.9 C1449.7,934.3 1454.6,956.8 1462.6,974.2 C1470.6,991.6 1480.0,1007.0 1494.0,1026.5 C1508.0,1046.0 1537.7,1080.6 1546.4,1091.4" fill="none" stroke="#333333" stroke-width="2.2" stroke-linejoin="round" stroke-linecap="round" />
<path d="M1179.0,895.0 C1178.0,901.7 1176.8,921.7 1173.0,935.0 C1169.2,948.3 1164.5,960.0 1156.0,975.0 C1147.5,990.0 1133.7,1010.0 1122.0,1025.0 C1110.3,1040.0 1092.0,1058.3 1086.0,1065.0" fill="none" stroke="#333333" stroke-width="1.8" stroke-linejoin="round" stroke-linecap="round" stroke-dasharray="7,4" />
<path d="M1449.0,895.0 C1450.0,901.7 1451.2,921.7 1455.0,935.0 C1458.8,948.3 1463.5,960.0 1472.0,975.0 C1480.5,990.0 1494.3,1010.0 1506.0,1025.0 C1517.7,1040.0 1536.0,1058.3 1542.0,1065.0" fill="none" stroke="#333333" stroke-width="1.8" stroke-linejoin="round" stroke-linecap="round" stroke-dasharray="7,4" />
<path d="M1184.0,893.0 C1183.2,899.2 1182.7,916.0 1179.0,930.0 C1175.3,944.0 1170.5,960.7 1162.0,977.0 C1153.5,993.3 1140.7,1011.7 1128.0,1028.0 C1115.3,1044.3 1093.0,1067.2 1086.0,1075.0" fill="none" stroke="#333333" stroke-width="1.8" stroke-linejoin="round" stroke-linecap="round" stroke-dasharray="7,4" />
<path d="M1444.0,893.0 C1444.8,899.2 1445.3,916.0 1449.0,930.0 C1452.7,944.0 1457.5,960.7 1466.0,977.0 C1474.5,993.3 1487.3,1011.7 1500.0,1028.0 C1512.7,1044.3 1535.0,1067.2 1542.0,1075.0" fill="none" stroke="#333333" stroke-width="1.8" stroke-linejoin="round" stroke-linecap="round" stroke-dasharray="7,4" />
<path d="M1171.6,886.3 L1067.0,917.7" fill="none" stroke="#333333" stroke-width="2.2" stroke-linejoin="round" stroke-linecap="round" />
<path d="M1456.4,886.3 L1561.0,917.7" fill="none" stroke="#333333" stroke-width="2.2" stroke-linejoin="round" stroke-linecap="round" />
<path d="M1067.0,917.7 C1064.2,916.8 1056.9,912.4 1050.2,912.4 C1043.5,912.4 1034.0,914.7 1027.0,918.0 C1020.0,921.3 1014.3,924.7 1008.4,932.3 C1002.5,939.9 1002.1,945.2 991.6,963.7 C981.1,982.2 960.2,1018.9 945.6,1043.3 C931.0,1067.7 917.8,1087.4 903.7,1110.2 C889.6,1133.0 871.2,1163.6 861.0,1180.0 C850.8,1196.4 847.4,1197.7 842.2,1208.8 C837.0,1219.9 832.4,1234.7 830.0,1246.5 C827.6,1258.3 827.2,1268.0 827.8,1279.8 C828.3,1291.6 829.0,1304.6 833.3,1317.5 C837.5,1330.4 842.6,1341.5 853.3,1357.4 C864.0,1373.3 877.6,1388.0 897.6,1412.8 C917.6,1437.6 959.0,1488.1 973.0,1506.0 C987.0,1523.9 980.4,1518.0 981.9,1520.4" fill="none" stroke="#333333" stroke-width="2.2" stroke-linejoin="round" stroke-linecap="round" />
<path d="M1561.0,917.7 C1563.8,916.8 1571.1,912.4 1577.8,912.4 C1584.5,912.4 1594.0,914.7 1601.0,918.0 C1608.0,921.3 1613.7,924.7 1619.6,932.3 C1625.5,939.9 1625.9,945.2 1636.4,963.7 C1646.9,982.2 1667.8,1018.9 1682.4,1043.3 C1697.1,1067.7 1710.2,1087.4 1724.3,1110.2 C1738.4,1133.0 1756.8,1163.6 1767.0,1180.0 C1777.2,1196.4 1780.6,1197.7 1785.8,1208.8 C1791.0,1219.9 1795.6,1234.7 1798.0,1246.5 C1800.4,1258.3 1800.8,1268.0 1800.2,1279.8 C1799.7,1291.6 1799.0,1304.6 1794.7,1317.5 C1790.5,1330.4 1785.4,1341.5 1774.7,1357.4 C1764.0,1373.3 1750.4,1388.0 1730.4,1412.8 C1710.5,1437.6 1669.0,1488.1 1655.0,1506.0 C1641.0,1523.9 1647.6,1518.0 1646.1,1520.4" fill="none" stroke="#333333" stroke-width="2.2" stroke-linejoin="round" stroke-linecap="round" />
<path d="M1067.0,917.7 C1069.1,923.6 1076.5,938.6 1079.5,953.3 C1082.5,967.9 1083.9,989.9 1084.8,1005.6 C1085.7,1021.3 1085.5,1033.2 1084.8,1047.5 C1084.1,1061.8 1083.6,1075.7 1080.6,1091.4 C1077.6,1107.1 1072.1,1127.5 1067.0,1141.6 C1061.9,1155.7 1055.3,1167.4 1050.0,1176.0 C1044.7,1184.6 1037.6,1190.4 1035.1,1193.3" fill="none" stroke="#333333" stroke-width="2.2" stroke-linejoin="round" stroke-linecap="round" />
<path d="M1561.0,917.7 C1558.9,923.6 1551.5,938.6 1548.5,953.3 C1545.5,967.9 1544.1,989.9 1543.2,1005.6 C1542.3,1021.3 1542.5,1033.2 1543.2,1047.5 C1543.9,1061.8 1544.4,1075.7 1547.4,1091.4 C1550.4,1107.1 1555.9,1127.5 1561.0,1141.6 C1566.1,1155.7 1572.7,1167.4 1578.0,1176.0 C1583.3,1184.6 1590.4,1190.4 1592.9,1193.3" fill="none" stroke="#333333" stroke-width="2.2" stroke-linejoin="round" stroke-linecap="round" />
<path d="M981.9,1520.4 Q1032.2,1468.2 1076.1,1460.5" fill="none" stroke="#333333" stroke-width="2.2" stroke-linejoin="round" stroke-linecap="round" />
<path d="M1646.1,1520.4 Q1595.8,1468.2 1551.9,1460.5" fill="none" stroke="#333333" stroke-width="2.2" stroke-linejoin="round" stroke-linecap="round" />
<path d="M970.8,1503.7 C978.2,1496.8 999.5,1471.6 1015.0,1462.0 C1030.5,1452.4 1055.8,1448.8 1063.9,1446.1" fill="none" stroke="#333333" stroke-width="1.8" stroke-linejoin="round" stroke-linecap="round" stroke-dasharray="6,4" />
<path d="M1657.2,1503.7 C1649.8,1496.8 1628.5,1471.6 1613.0,1462.0 C1597.5,1452.4 1572.2,1448.8 1564.1,1446.1" fill="none" stroke="#333333" stroke-width="1.8" stroke-linejoin="round" stroke-linecap="round" stroke-dasharray="6,4" />
<path d="M975.2,1508.2 C982.5,1501.3 1003.9,1476.8 1019.0,1467.0 C1034.2,1457.2 1058.2,1452.3 1066.1,1449.4" fill="none" stroke="#333333" stroke-width="1.8" stroke-linejoin="round" stroke-linecap="round" stroke-dasharray="6,4" />
<path d="M1652.8,1508.2 C1645.5,1501.3 1624.2,1476.8 1609.0,1467.0 C1593.8,1457.2 1569.8,1452.3 1561.9,1449.4" fill="none" stroke="#333333" stroke-width="1.8" stroke-linejoin="round" stroke-linecap="round" stroke-dasharray="6,4" />
<path d="M1076.1,1460.5 L957.5,1294.2" fill="none" stroke="#333333" stroke-width="2.2" stroke-linejoin="round" stroke-linecap="round" />
<path d="M1551.9,1460.5 L1670.5,1294.2" fill="none" stroke="#333333" stroke-width="2.2" stroke-linejoin="round" stroke-linecap="round" />
<path d="M918.7,1244.3 L957.5,1294.2" fill="none" stroke="#333333" stroke-width="2.2" stroke-linejoin="round" stroke-linecap="round" />
<path d="M1709.3,1244.3 L1670.5,1294.2" fill="none" stroke="#333333" stroke-width="2.2" stroke-linejoin="round" stroke-linecap="round" />
<path d="M957.5,1294.2 L1035.1,1193.3" fill="none" stroke="#333333" stroke-width="2.2" stroke-linejoin="round" stroke-linecap="round" />
<path d="M1670.5,1294.2 L1592.9,1193.3" fill="none" stroke="#333333" stroke-width="2.2" stroke-linejoin="round" stroke-linecap="round" />
<path d="M1035.1,1193.3 C1034.8,1211.1 1033.9,1265.5 1033.5,1300.0 C1033.1,1334.5 1033.0,1383.3 1032.9,1400.0" fill="none" stroke="#333333" stroke-width="2.2" stroke-linejoin="round" stroke-linecap="round" />
<path d="M1592.9,1193.3 C1593.2,1211.1 1594.1,1265.5 1594.5,1300.0 C1594.9,1334.5 1595.0,1383.3 1595.1,1400.0" fill="none" stroke="#333333" stroke-width="2.2" stroke-linejoin="round" stroke-linecap="round" />
<path d="M1030.8,1478.0 C1031.0,1488.3 1031.0,1519.7 1031.7,1540.0 C1032.4,1560.3 1034.4,1586.4 1035.2,1600.0 C1036.0,1613.6 1036.5,1618.0 1036.8,1621.6" fill="none" stroke="#333333" stroke-width="2.2" stroke-linejoin="round" stroke-linecap="round" />
<path d="M1597.2,1478.0 C1597.0,1488.3 1597.0,1519.7 1596.3,1540.0 C1595.6,1560.3 1593.6,1586.4 1592.8,1600.0 C1592.0,1613.6 1591.5,1618.0 1591.2,1621.6" fill="none" stroke="#333333" stroke-width="2.2" stroke-linejoin="round" stroke-linecap="round" />
<path d="M1036.8,1621.6 C1036.9,1625.5 1036.4,1637.6 1037.6,1645.0 C1038.8,1652.4 1040.3,1654.8 1044.0,1666.0 C1047.7,1677.2 1052.0,1696.8 1060.0,1712.0 C1068.0,1727.2 1078.7,1742.8 1092.0,1756.9 C1105.3,1771.1 1122.4,1782.0 1140.0,1796.9 C1157.6,1811.8 1188.1,1838.2 1197.7,1846.5" fill="none" stroke="#333333" stroke-width="2.2" stroke-linejoin="round" stroke-linecap="round" />
<path d="M1591.2,1621.6 C1591.1,1625.5 1591.6,1637.6 1590.4,1645.0 C1589.2,1652.4 1587.7,1654.8 1584.0,1666.0 C1580.3,1677.2 1576.0,1696.8 1568.0,1712.0 C1560.0,1727.2 1549.3,1742.8 1536.0,1756.9 C1522.7,1771.1 1505.6,1782.0 1488.0,1796.9 C1470.4,1811.8 1439.9,1838.2 1430.3,1846.5" fill="none" stroke="#333333" stroke-width="2.2" stroke-linejoin="round" stroke-linecap="round" />
<path d="M1036.8,1621.6 C1044.7,1622.8 1068.1,1624.4 1084.0,1628.8 C1099.9,1633.2 1116.0,1639.5 1132.0,1648.0 C1148.0,1656.5 1165.3,1667.7 1180.0,1680.0 C1194.7,1692.3 1209.9,1710.7 1220.1,1721.7 C1230.3,1732.7 1234.8,1740.3 1241.0,1746.0 C1247.2,1751.7 1248.8,1754.6 1257.0,1756.1 C1265.2,1757.6 1284.5,1755.2 1290.0,1755.0" fill="none" stroke="#333333" stroke-width="2.2" stroke-linejoin="round" stroke-linecap="round" />
<path d="M1591.2,1621.6 C1583.3,1622.8 1559.9,1624.4 1544.0,1628.8 C1528.1,1633.2 1512.0,1639.5 1496.0,1648.0 C1480.0,1656.5 1462.7,1667.7 1448.0,1680.0 C1433.3,1692.3 1418.1,1710.7 1407.9,1721.7 C1397.7,1732.7 1393.2,1740.3 1387.0,1746.0 C1380.8,1751.7 1379.2,1754.6 1371.0,1756.1 C1362.8,1757.6 1343.5,1755.2 1338.0,1755.0" fill="none" stroke="#333333" stroke-width="2.2" stroke-linejoin="round" stroke-linecap="round" />
<path d="M1037.6,1647.2 C1042.7,1647.9 1054.9,1647.9 1068.0,1651.2 C1081.1,1654.5 1100.0,1659.2 1116.0,1667.2 C1132.0,1675.2 1149.3,1687.0 1164.0,1699.3 C1178.7,1711.6 1193.1,1728.5 1204.1,1740.9 C1215.0,1753.3 1225.4,1768.2 1229.7,1773.7" fill="none" stroke="#333333" stroke-width="2.2" stroke-linejoin="round" stroke-linecap="round" />
<path d="M1590.4,1647.2 C1585.3,1647.9 1573.1,1647.9 1560.0,1651.2 C1546.9,1654.5 1528.0,1659.2 1512.0,1667.2 C1496.0,1675.2 1478.7,1687.0 1464.0,1699.3 C1449.3,1711.6 1434.9,1728.5 1423.9,1740.9 C1413.0,1753.3 1402.6,1768.2 1398.3,1773.7" fill="none" stroke="#333333" stroke-width="2.2" stroke-linejoin="round" stroke-linecap="round" />
<path d="M1068.0,1649.6 C1071.2,1657.3 1079.2,1681.6 1087.2,1696.0 C1095.2,1710.4 1104.5,1723.2 1116.0,1736.0 C1127.5,1748.8 1141.5,1759.3 1156.0,1772.9 C1170.5,1786.5 1195.4,1810.2 1203.3,1817.7" fill="none" stroke="#333333" stroke-width="2.2" stroke-linejoin="round" stroke-linecap="round" />
<path d="M1560.0,1649.6 C1556.8,1657.3 1548.8,1681.6 1540.8,1696.0 C1532.8,1710.4 1523.5,1723.2 1512.0,1736.0 C1500.5,1748.8 1486.5,1759.3 1472.0,1772.9 C1457.5,1786.5 1432.6,1810.2 1424.7,1817.7" fill="none" stroke="#333333" stroke-width="2.2" stroke-linejoin="round" stroke-linecap="round" />
<path d="M1040.0,1633.0 C1047.3,1633.7 1069.0,1633.3 1084.0,1637.0 C1099.0,1640.7 1114.7,1646.5 1130.0,1655.0 C1145.3,1663.5 1161.8,1675.5 1176.0,1688.0 C1190.2,1700.5 1204.3,1718.5 1215.0,1730.0 C1225.7,1741.5 1235.8,1752.5 1240.0,1757.0" fill="none" stroke="#333333" stroke-width="1.8" stroke-linejoin="round" stroke-linecap="round" stroke-dasharray="6,4" />
<path d="M1588.0,1633.0 C1580.7,1633.7 1559.0,1633.3 1544.0,1637.0 C1529.0,1640.7 1513.3,1646.5 1498.0,1655.0 C1482.7,1663.5 1466.2,1675.5 1452.0,1688.0 C1437.8,1700.5 1423.7,1718.5 1413.0,1730.0 C1402.3,1741.5 1392.2,1752.5 1388.0,1757.0" fill="none" stroke="#333333" stroke-width="1.8" stroke-linejoin="round" stroke-linecap="round" stroke-dasharray="6,4" />
<path d="M1040.0,1640.0 C1047.0,1640.7 1067.7,1640.5 1082.0,1644.0 C1096.3,1647.5 1111.3,1652.7 1126.0,1661.0 C1140.7,1669.3 1156.0,1681.5 1170.0,1694.0 C1184.0,1706.5 1199.0,1724.3 1210.0,1736.0 C1221.0,1747.7 1231.7,1759.3 1236.0,1764.0" fill="none" stroke="#333333" stroke-width="1.8" stroke-linejoin="round" stroke-linecap="round" stroke-dasharray="6,4" />
<path d="M1588.0,1640.0 C1581.0,1640.7 1560.3,1640.5 1546.0,1644.0 C1531.7,1647.5 1516.7,1652.7 1502.0,1661.0 C1487.3,1669.3 1472.0,1681.5 1458.0,1694.0 C1444.0,1706.5 1429.0,1724.3 1418.0,1736.0 C1407.0,1747.7 1396.3,1759.3 1392.0,1764.0" fill="none" stroke="#333333" stroke-width="1.8" stroke-linejoin="round" stroke-linecap="round" stroke-dasharray="6,4" />
<path d="M1048.0,1660.0 C1050.0,1665.0 1054.7,1679.7 1060.0,1690.0 C1065.3,1700.3 1071.3,1711.0 1080.0,1722.0 C1088.7,1733.0 1100.3,1745.0 1112.0,1756.0 C1123.7,1767.0 1135.3,1775.7 1150.0,1788.0 C1164.7,1800.3 1191.7,1823.0 1200.0,1830.0" fill="none" stroke="#333333" stroke-width="1.8" stroke-linejoin="round" stroke-linecap="round" stroke-dasharray="6,4" />
<path d="M1580.0,1660.0 C1578.0,1665.0 1573.3,1679.7 1568.0,1690.0 C1562.7,1700.3 1556.7,1711.0 1548.0,1722.0 C1539.3,1733.0 1527.7,1745.0 1516.0,1756.0 C1504.3,1767.0 1492.7,1775.7 1478.0,1788.0 C1463.3,1800.3 1436.3,1823.0 1428.0,1830.0" fill="none" stroke="#333333" stroke-width="1.8" stroke-linejoin="round" stroke-linecap="round" stroke-dasharray="6,4" />
<path d="M1056.0,1655.0 C1058.3,1660.8 1064.0,1678.8 1070.0,1690.0 C1076.0,1701.2 1083.0,1711.3 1092.0,1722.0 C1101.0,1732.7 1112.7,1743.7 1124.0,1754.0 C1135.3,1764.3 1146.8,1772.3 1160.0,1784.0 C1173.2,1795.7 1195.8,1817.3 1203.0,1824.0" fill="none" stroke="#333333" stroke-width="1.8" stroke-linejoin="round" stroke-linecap="round" stroke-dasharray="6,4" />
<path d="M1572.0,1655.0 C1569.7,1660.8 1564.0,1678.8 1558.0,1690.0 C1552.0,1701.2 1545.0,1711.3 1536.0,1722.0 C1527.0,1732.7 1515.3,1743.7 1504.0,1754.0 C1492.7,1764.3 1481.2,1772.3 1468.0,1784.0 C1454.8,1795.7 1432.2,1817.3 1425.0,1824.0" fill="none" stroke="#333333" stroke-width="1.8" stroke-linejoin="round" stroke-linecap="round" stroke-dasharray="6,4" />
<path d="M1197.7,1846.5 C1199.3,1840.1 1202.2,1820.1 1207.3,1808.1 C1212.4,1796.1 1219.8,1782.8 1228.1,1774.5 C1236.4,1766.2 1246.7,1761.8 1257.0,1758.5 C1267.3,1755.2 1280.5,1755.7 1290.0,1755.0 C1299.5,1754.3 1310.0,1754.6 1314.0,1754.5  C1318.0,1754.6 1328.5,1754.3 1338.0,1755.0 C1347.5,1755.7 1360.7,1755.2 1371.0,1758.5 C1381.3,1761.8 1391.6,1766.2 1399.9,1774.5 C1408.2,1782.8 1415.6,1796.1 1420.7,1808.1 C1425.8,1820.1 1428.7,1840.1 1430.3,1846.5" fill="none" stroke="#333333" stroke-width="2.2" stroke-linejoin="round" stroke-linecap="round" />
<path d="M1226.5,1846.5 C1227.6,1840.9 1229.0,1822.2 1233.0,1812.9 C1237.0,1803.6 1244.4,1795.3 1250.5,1790.5 C1256.6,1785.7 1263.1,1785.3 1269.7,1784.1 C1276.3,1782.8 1282.6,1783.3 1290.0,1783.0 C1297.4,1782.7 1310.0,1782.6 1314.0,1782.5  C1318.0,1782.6 1330.6,1782.7 1338.0,1783.0 C1345.4,1783.3 1351.7,1782.8 1358.3,1784.1 C1364.9,1785.3 1371.4,1785.7 1377.5,1790.5 C1383.6,1795.3 1391.0,1803.6 1395.0,1812.9 C1399.0,1822.2 1400.4,1840.9 1401.5,1846.5" fill="none" stroke="#333333" stroke-width="2.2" stroke-linejoin="round" stroke-linecap="round" />
<path d="M1197.7,1846.5 L1430.3,1846.5" fill="none" stroke="#333333" stroke-width="2.2" stroke-linejoin="round" stroke-linecap="round" />
<path d="M1210.0,1846.0 C1211.2,1839.3 1212.3,1817.0 1217.0,1806.0 C1221.7,1795.0 1230.0,1786.3 1238.0,1780.0 C1246.0,1773.7 1252.3,1770.3 1265.0,1768.0 C1277.7,1765.7 1305.8,1766.3 1314.0,1766.0  C1322.2,1766.3 1350.3,1765.7 1363.0,1768.0 C1375.7,1770.3 1382.0,1773.7 1390.0,1780.0 C1398.0,1786.3 1406.3,1795.0 1411.0,1806.0 C1415.7,1817.0 1416.8,1839.3 1418.0,1846.0" fill="none" stroke="#333333" stroke-width="1.8" stroke-linejoin="round" stroke-linecap="round" stroke-dasharray="6,4" />
<path d="M1216.0,1846.0 C1217.2,1840.0 1218.5,1820.0 1223.0,1810.0 C1227.5,1800.0 1235.5,1792.0 1243.0,1786.0 C1250.5,1780.0 1256.2,1776.3 1268.0,1774.0 C1279.8,1771.7 1306.3,1772.3 1314.0,1772.0  C1321.7,1772.3 1348.2,1771.7 1360.0,1774.0 C1371.8,1776.3 1377.5,1780.0 1385.0,1786.0 C1392.5,1792.0 1400.5,1800.0 1405.0,1810.0 C1409.5,1820.0 1410.8,1840.0 1412.0,1846.0" fill="none" stroke="#333333" stroke-width="1.8" stroke-linejoin="round" stroke-linecap="round" stroke-dasharray="6,4" />
<circle cx="1271.3" cy="1773.7" r="11" fill="#7a7a7a" stroke="#333" stroke-width="1.8"/>
<circle cx="1271.3" cy="1773.7" r="5.2" fill="#fff" stroke="#333" stroke-width="1.2"/>
<circle cx="1356.7" cy="1773.7" r="11" fill="#7a7a7a" stroke="#333" stroke-width="1.8"/>
<circle cx="1356.7" cy="1773.7" r="5.2" fill="#fff" stroke="#333" stroke-width="1.2"/>
<line x1="1182.0" y1="879.0" x2="976.7" y2="799.7" stroke="#333" stroke-width="4.2"/>
<path d="M950.6,789.6 L984.0,786.4 L973.2,814.4 Z" fill="#333"/>
<line x1="1320.8" y1="922.0" x2="1320.8" y2="774.0" stroke="#333" stroke-width="5.0"/>
<path d="M1320.8,746.0 L1335.8,776.0 L1305.8,776.0 Z" fill="#333"/>
<line x1="969.0" y1="1504.8" x2="829.9" y2="1504.8" stroke="#333" stroke-width="4.5"/>
<path d="M801.9,1504.8 L831.9,1489.8 L831.9,1519.8 Z" fill="#333"/>
<line x1="1356.3" y1="1774.2" x2="1664.0" y2="1774.2" stroke="#333" stroke-width="4.5"/>
<path d="M1692.0,1774.2 L1662.0,1789.2 L1662.0,1759.2 Z" fill="#333"/>
<defs><clipPath id="pclip"><ellipse cx="2265" cy="763" rx="226" ry="221"/></clipPath>
<linearGradient id="pg" x1="0" y1="0" x2="0" y2="1"><stop offset="0" stop-color="#c6327b"/><stop offset="0.5" stop-color="#c12d76"/><stop offset="1" stop-color="#b92a70"/></linearGradient></defs>
<g clip-path="url(#pclip)">
<rect x="2030" y="530" width="470" height="470" fill="url(#pg)"/>
<path d="M2035,700 L2060,707 L2169,800 L2160,792 L2085,873 L2060,905 L2035,905 Z" fill="#b92f78" opacity="0.3"/>
<path d="M2040,645 L2084.6,653 L2183.7,760.7 L2168.6,799.5 L2058.7,706.8 L2040,700 Z" fill="#cc3b85"/>
<path d="M2084.6,653 L2183.7,760.7" stroke="#d8549a" stroke-width="3" fill="none"/>
<path d="M2078,662 L2176,768 M2074,670 L2172,776" stroke="#8e1d55" stroke-width="2.2" stroke-dasharray="2.5,3" fill="none" opacity="0.8"/>
<path d="M2058.7,706.8 L2168.6,799.5" stroke="#a3246a" stroke-width="2" fill="none" opacity="0.7"/>
<path d="M2157,790 L2178,824 L2099.7,903 L2070,940 L2045,915 L2084.6,872.8 Z" fill="#cd3e87"/>
<path d="M2166,812 L2090,890 L2060,925" stroke="#8e1d55" stroke-width="2.2" stroke-dasharray="2.5,3" fill="none" opacity="0.8"/>
<path d="M2157,790 L2084.6,872.8 L2050,912" stroke="#a3246a" stroke-width="2" fill="none" opacity="0.6"/>
<path d="M2410,606 L2445,612 L2456.2,664.7 L2372,784 L2345,800 L2320.4,767.2 L2395,650 Z" fill="#cc3b85"/>
<path d="M2410,606 L2395,650 L2320.4,767.2" stroke="#d8549a" stroke-width="3" fill="none"/>
<path d="M2420,615 L2404,656 L2330,770 M2428,618 L2412,660 L2338,775" stroke="#8e1d55" stroke-width="2.2" stroke-dasharray="2.5,3" fill="none" opacity="0.8"/>
<path d="M2456.2,664.7 L2495,690 L2495,900 L2455,900 L2372,784 Z" fill="#d04a8f" opacity="0.75"/>
<path d="M2470,780 L2462,850 L2447,885" stroke="#d41f7c" stroke-width="5" stroke-dasharray="2,2" fill="none"/>
<path d="M2350,796 L2465,898 L2440,940 L2335,828 Z" fill="#cd3e87"/>
<path d="M2345,815 L2450,920" stroke="#8e1d55" stroke-width="2.2" stroke-dasharray="2.5,3" fill="none" opacity="0.8"/>
<path d="M2178,824 L2335,828 L2440,940 L2420,990 L2100,990 L2070,940 L2099.7,903 Z" fill="#bf2f76" opacity="0.55"/>
<path d="M2168,952.6 L2365,952.6 L2365,995 L2168,995 Z" fill="#3a2a1c"/>
</g>
<ellipse cx="2265" cy="763" rx="224.3" ry="219.3" fill="none" stroke="#ee2a2f" stroke-width="11.5"/>
<line x1="2265" y1="540" x2="2265" y2="985" stroke="#ffee00" stroke-width="12.5" stroke-dasharray="23,36.2"/>
<circle cx="2186" cy="806" r="14.5" fill="none" stroke="#3a3035" stroke-width="7"/>
<circle cx="2186" cy="806" r="14.5" fill="none" stroke="#b9b0b6" stroke-width="3.6"/>
<circle cx="2342" cy="803" r="14.5" fill="none" stroke="#3a3035" stroke-width="7"/>
<circle cx="2342" cy="803" r="14.5" fill="none" stroke="#b9b0b6" stroke-width="3.6"/>
<g fill="#ffee00">
<rect x="2184" y="801" width="162" height="11"/>
<rect x="2184" y="775" width="10.5" height="61"/>
<rect x="2335" y="775" width="10.5" height="61"/>
<rect x="2259" y="776" width="12.5" height="18"/>
</g>
<rect x="2259.5" y="793" width="11" height="24" fill="#2a2a2a"/>
<text x="2226.5" y="832.5" font-family="Liberation Sans" font-size="24.0" font-weight="normal" fill="#ffee00" text-anchor="middle" textLength="43.0" lengthAdjust="spacingAndGlyphs" >2cm</text>
<text x="2304.2" y="832.5" font-family="Liberation Sans" font-size="24.0" font-weight="normal" fill="#ffee00" text-anchor="middle" textLength="42.0" lengthAdjust="spacingAndGlyphs" >2cm</text>
<rect x="2156" y="848.4" width="215.4" height="34.2" fill="#ffee00"/>
<text x="2264.5" y="875.0" font-family="Liberation Sans" font-size="23.5" font-weight="normal" fill="#2a2a2a" text-anchor="middle" textLength="198.0" lengthAdjust="spacingAndGlyphs" >2cm para cada lado</text>
<text transform="translate(2252,759.4) rotate(-90)" font-family="Liberation Sans" font-size="31" fill="#ffee00" textLength="181" lengthAdjust="spacingAndGlyphs">meio da peça</text>
<g transform="translate(2870,520) scale(0.22161)" fill="#262626">
<path d="M1212.9,471.7 A670,670 0 1 1 610.2,258.2" fill="none" stroke="#262626" stroke-width="14" stroke-dasharray="32,22"/>
<polygon points="631.7,37.7 648.8,66.9 682.4,62.5 660.0,87.8 674.5,118.3 643.5,104.9 619.0,128.1 622.2,94.5 592.5,78.3 625.5,71.0"/>
<polygon points="933.5,68.2 941.0,95.3 969.0,99.0 945.5,114.6 950.6,142.3 928.5,124.7 903.8,138.2 913.6,111.8 893.2,92.4 921.3,93.6"/>
<polygon points="1097.0,158.0 1104.9,179.1 1127.4,180.1 1109.8,194.2 1115.8,215.9 1097.0,203.4 1078.2,215.9 1084.2,194.2 1066.6,180.1 1089.1,179.1"/>
<polygon points="1337.6,136.7 1343.3,167.2 1373.6,173.9 1346.3,188.7 1349.3,219.5 1326.8,198.2 1298.3,210.6 1311.7,182.6 1291.2,159.3 1321.9,163.4"/>
<path d="M662,445 L660,150 L812,292 L930,160 L1005,318 L1272,222 L1122,540" fill="none" stroke="#262626" stroke-width="19" stroke-linejoin="round" stroke-linecap="round"/>
<path d="M1088,245 L1093,330" fill="none" stroke="#262626" stroke-width="19" stroke-linecap="round"/>
<g fill="none" stroke="#262626" stroke-width="17" stroke-linecap="round" stroke-linejoin="round">
<path d="M726,345 L720,440"/>
<path d="M772,375 L766,452"/>
<path d="M838,352 L826,470 M805,388 L862,386"/>
<path d="M905,378 L893,492 M875,410 L940,408"/>
<path d="M988,405 L976,512"/>
<path d="M1008,478 C1040,470 1075,465 1078,448 C1080,430 1050,428 1030,445 C1005,470 1008,510 1040,515 C1060,518 1075,508 1085,500"/>
</g>
<circle cx="779" cy="350" r="10"/>
</g>
<g transform="translate(2910,600) scale(0.10017)" fill="none" stroke="#262626" stroke-linecap="round" stroke-linejoin="round">
<path d="M590,290 C560,500 470,800 410,1040" stroke-width="115"/>
<path d="M330,330 C300,280 380,220 480,180 C620,120 820,90 910,170 C990,250 980,420 900,520 C830,610 720,660 610,680" stroke-width="56"/>
<path d="M905,210 C975,300 960,450 880,540" stroke-width="125"/>
<path d="M610,680 C760,690 850,780 840,900 C830,1040 700,1190 500,1260 C330,1310 160,1260 100,1120 C40,980 120,780 240,710 C310,670 380,700 385,800" stroke-width="78"/>
<path d="M805,770 C865,850 850,1000 770,1100" stroke-width="120"/>
<path d="M1210,600 C1150,540 1040,560 970,660 C900,760 880,900 910,990 C940,1050 1040,1000 1100,920 C1160,840 1200,780 1220,740" stroke-width="66"/>
<path d="M1225,745 C1200,850 1170,960 1175,1020 C1180,1060 1240,1040 1300,990 C1350,950 1380,900 1400,880" stroke-width="72"/>
<path d="M1200,590 C1235,615 1248,660 1240,700" stroke-width="45"/>
<path d="M1545,340 C1520,550 1440,800 1395,1010" stroke-width="92"/>
<path d="M1400,1010 C1410,1080 1510,1090 1600,1040 C1690,990 1730,860 1720,720 C1710,610 1620,590 1550,640 C1500,680 1480,720 1470,760" stroke-width="70"/>
<path d="M1880,610 C1860,760 1810,920 1790,1010 C1780,1070 1830,1080 1880,1040 C1960,980 2030,880 2060,820" stroke-width="74"/>
<path d="M2100,640 C2090,800 2060,1000 2020,1150 C1980,1320 1900,1500 1790,1570 C1720,1610 1670,1560 1690,1470 C1720,1370 1830,1230 1950,1150 C2060,1070 2150,940 2220,790" stroke-width="52"/>
<path d="M2095,660 C2085,820 2055,1000 2015,1150" stroke-width="88"/>
<ellipse cx="345" cy="315" rx="55" ry="42" fill="#262626" stroke="none" transform="rotate(-25 345 315)"/>
<rect x="810" y="1205" width="840" height="100" rx="22" fill="#262626" stroke="none"/>
</g>
<g transform="translate(2870,520) scale(0.22161)" fill="#262626">
</g>
<g transform="translate(2930,740) scale(0.08711)" fill="none" stroke="#262626" stroke-linecap="round" stroke-linejoin="round">
<path d="M165,205 C225,120 340,110 395,175 C440,235 400,310 300,328 C425,340 455,430 425,505 C385,585 235,595 160,475" stroke-width="72"/>
<path d="M720,335 C640,295 565,360 550,470 C540,560 600,590 660,540 C700,500 730,440 742,380" stroke-width="60"/>
<path d="M745,335 L758,565" stroke-width="62"/>
<path d="M1065,105 C960,180 875,300 865,420 C860,530 925,578 995,578 C1085,578 1130,520 1130,440 C1130,360 1070,320 1000,320 C935,320 885,360 870,425" stroke-width="72"/>
<g stroke-width="30">
<path d="M1252,500 L1250,370 M1250,415 C1270,360 1340,352 1350,420 L1355,500 M1350,420 C1372,360 1442,352 1462,420 L1467,500"/>
<path d="M1540,442 C1600,442 1640,432 1630,402 C1615,362 1550,372 1535,422 C1520,482 1560,512 1600,507 C1630,502 1645,492 1650,482"/>
<path d="M1800,382 C1770,352 1702,362 1702,402 C1702,442 1792,432 1797,472 C1802,512 1722,517 1692,492"/>
<path d="M1872,442 C1932,442 1972,432 1962,402 C1947,362 1882,372 1867,422 C1852,482 1892,512 1932,507 C1962,502 1977,492 1982,482"/>
<path d="M2120,382 C2090,352 2022,362 2022,402 C2022,442 2112,432 2117,472 C2122,512 2042,517 2012,492"/>
</g>
<g stroke-width="28">
<path d="M330,692 C250,722 192,822 196,902 C200,962 250,972 290,952 C340,922 345,852 300,832 C260,817 212,842 202,882"/>
<path d="M450,712 L562,702 L472,962 M455,832 L562,832"/>
<path d="M728,868 C700,842 642,850 634,910 C630,960 672,970 716,950"/>
<path d="M790,962 L790,856 M790,888 C815,846 876,846 884,892 L889,960 M884,892 C902,846 986,846 996,892 L1001,960"/>
<path d="M1052,952 L1162,702"/>
<path d="M1232,702 L1372,692 L1282,962 M1252,832 L1372,832"/>
<path d="M1462,932 L1442,992"/>
<path d="M1692,762 C1682,692 1562,692 1547,762 C1537,822 1602,852 1662,822 C1692,802 1702,762 1692,762 L1682,882 C1672,942 1622,972 1572,952"/>
<path d="M1762,682 L1762,962 M1862,802 L1772,882 L1882,952"/>
<path d="M2032,822 C2002,802 1952,812 1947,872 C1947,922 2002,932 2032,882 M2037,822 L2042,1042 C2042,1092 1992,1102 1952,1092"/>
</g>
</g>
<rect x="2662.5" y="1395" width="783.9" height="130.4" fill="none" stroke="#222" stroke-width="1.8"/>
<g transform="translate(2650,1380)" fill="none" stroke="#222" stroke-width="5.2" stroke-linecap="round" stroke-linejoin="miter">
<path d="M37.5,24.3 L53.6,103.6 L130.4,103.6 L146.4,24.3"/>
<path d="M41,39 q7.5,-11 15,0 t15,0 t15,0 t15,0 t15,0 t15,0 t6,-4" stroke-width="4.4"/>
<path d="M55.4,117 L131.4,117 M55.4,128 L131.4,128" stroke-width="5"/>
</g>
<text x="2742.9" y="1462.0" font-family="Liberation Sans" font-size="40.0" font-weight="normal" fill="#222" text-anchor="middle" textLength="40.0" lengthAdjust="spacingAndGlyphs" >40</text>
<g transform="translate(2650,1380)" fill="none" stroke="#222" stroke-width="5.3" stroke-linecap="round">
<path d="M239.3,17.9 L182.1,123.2 L298.2,123.2 Z" stroke-linejoin="miter"/>
<path d="M170.7,50 L308.9,122.5 M170.7,122.5 L308.9,50" stroke-width="5.3"/>
<rect x="326.8" y="33.9" width="87.5" height="87.5" stroke-linecap="butt"/>
<circle cx="371.4" cy="77.9" r="34.5"/>
<path d="M313.6,17.1 L426.8,137.5 M313.6,137.5 L426.8,17.1" stroke-linecap="butt"/>
<rect x="446.4" y="28.6" width="96.5" height="97.1" stroke-linecap="butt"/>
<path d="M494.6,50 L494.6,105.4" stroke-width="4.6" stroke-linecap="butt"/>
<path d="M579.3,28.6 L637.5,28.6 L667.1,123.2 L558.9,123.2 C559,100 568,79 590,77.9 L651,77.9" stroke-linejoin="miter" stroke-linecap="butt"/>
<circle cx="612.5" cy="99.3" r="7.6" fill="#222" stroke="none"/>
<circle cx="733.9" cy="76.8" r="44.5"/>
<path d="M689.3,30.4 L778.6,124.3 M689.3,124.3 L778.6,30.4" stroke-linecap="butt"/>
</g></svg>
</body></html>
